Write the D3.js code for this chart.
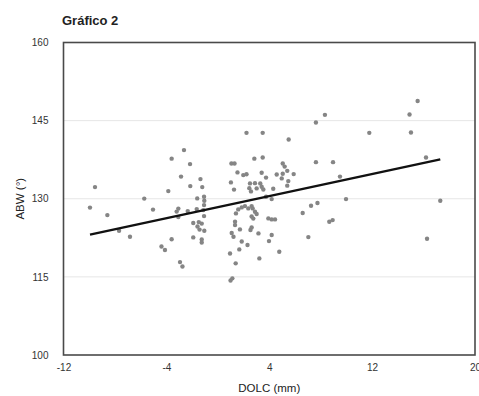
<!DOCTYPE html>
<html>
<head>
<meta charset="utf-8">
<script src="https://cdn.jsdelivr.net/npm/d3@7"></script>
<style>
  body { margin: 0; background: #fff; }
  svg { display: block; font-family: "Liberation Sans", Arial, Helvetica, sans-serif; }
</style>
</head>
<body>
<div id="chart"></div>
<script>
// DOLC (mm) values
const dolc = [
  -9.94, -9.55, -8.59, -7.68, -6.83, -5.72, -5.04, -4.38, -4.11, -3.85,
  -3.59, -3.59, -3.20, -3.07, -3.07, -2.94, -2.75, -2.86, -2.63, -2.34,
  -2.16, -2.14, -1.91, -1.91, -1.64, -1.58, -1.60, -1.48, -1.42, -1.35,
  -1.25, -1.25, -1.25, -1.21, -1.13, -1.07, -1.05, -1.07, -1.07, -1.05,
  0.95, 1.02, 1.06, 1.30, 1.08, 1.22, 1.13, 0.99, 1.26, 1.34,
  1.34, 1.39, 1.41, 1.53, 1.59, 1.67, 1.72, 1.86, 1.86, 1.98,
  2.11, 2.23, 2.23, 2.31, 2.37, 2.45, 2.58, 2.50, 2.54, 2.63,
  2.63, 2.63, 2.76, 2.71, 2.89, 2.84, 2.89, 3.02, 3.02, 3.16,
  3.23, 3.30, 3.41, 3.41, 3.49, 3.49, 3.54, 3.75, 3.75, 3.93,
  4.19, 4.45, 4.19, 4.19, 3.98, 4.31, 4.58, 4.78, 4.97, 5.05,
  5.20, 5.05, 5.40, 5.40, 5.48, 5.51, 5.90, 6.60, 7.04, 7.25,
  7.75, 7.63, 7.63, 8.33, 8.67, 8.93, 8.96, 9.50, 9.97, 11.78,
  14.91, 15.02, 15.54, 16.19, 16.27, 17.30
];
// ABW (°) values, same order
const abw = [
  128.30, 132.24, 126.86, 123.85, 122.70, 130.03, 127.92, 120.82, 120.15, 131.47,
  137.70, 122.22, 127.53, 128.11, 126.48, 117.84, 116.98, 134.25, 139.34, 127.63,
  136.65, 132.43, 125.33, 122.58, 128.01, 124.66, 130.07, 125.52, 124.08, 133.77,
  125.23, 122.20, 121.59, 132.24, 127.82, 130.37, 129.61, 128.78, 126.67, 123.85,
  119.48, 133.14, 136.78, 136.78, 123.41, 122.70, 114.72, 114.30, 131.76, 125.58,
  124.94, 117.60, 127.19, 135.06, 127.96, 120.28, 124.12, 128.34, 121.78, 134.54,
  128.59, 134.69, 142.65, 121.11, 128.15, 132.04, 131.41, 132.95, 123.99, 124.50,
  128.59, 126.58, 126.19, 128.15, 127.50, 137.70, 133.00, 131.99, 127.06, 123.35,
  118.55, 132.95, 134.98, 132.29, 137.93, 142.65, 131.79, 134.06, 130.37, 126.23,
  126.04, 126.04, 129.93, 123.03, 121.87, 131.91, 134.67, 119.82, 133.91, 136.78,
  136.17, 134.79, 135.36, 132.52, 133.39, 141.39, 134.73, 127.25, 122.64, 128.65,
  129.17, 144.65, 137.03, 146.11, 125.58, 125.90, 137.03, 134.25, 129.93, 142.65,
  146.19, 142.73, 148.78, 137.93, 122.32, 129.61
];
const xTicks = [-12, -4, 4, 12, 20];
const yTicks = [100, 115, 130, 145, 160];
// trend line end points
const trendX = [-9.94, 17.3];
const trendY = [123.1, 137.55];

const width = 479, height = 396;
const margin = { top: 42.5, right: 4, bottom: 41, left: 63.5 };

const svg = d3.select("#chart").append("svg")
  .attr("width", width)
  .attr("height", height);

const x = d3.scaleLinear().domain([-12, 20]).range([margin.left, width - margin.right]);
const y = d3.scaleLinear().domain([100, 160]).range([height - margin.bottom, margin.top]);

// title
svg.append("text")
  .attr("x", 62).attr("y", 25)
  .attr("font-size", 13).attr("font-weight", "bold").attr("fill", "#222")
  .text("Gráfico 2");

// grid lines
svg.append("g")
  .selectAll("line")
  .data(yTicks.slice(1, -1))
  .join("line")
  .attr("x1", x(-12)).attr("x2", x(20))
  .attr("y1", d => y(d)).attr("y2", d => y(d))
  .attr("stroke", "#e6e6e6").attr("stroke-width", 1);

// axes (labels only, no tick marks), plain hyphen for negatives
const yAxis = svg.append("g")
  .attr("transform", "translate(" + (margin.left - 12) + ",0)")
  .call(d3.axisLeft(y).tickValues(yTicks).tickSize(0).tickFormat(d => String(d)));
yAxis.select(".domain").remove();
yAxis.selectAll("text").attr("font-size", 10).attr("fill", "#333")
  .attr("font-family", "Liberation Sans, Arial, sans-serif");

const xAxis = svg.append("g")
  .attr("transform", "translate(0," + (height - margin.bottom + 6) + ")")
  .call(d3.axisBottom(x).tickValues(xTicks).tickSize(0).tickFormat(d => String(d)));
xAxis.select(".domain").remove();
xAxis.selectAll("text").attr("font-size", 10).attr("fill", "#333")
  .attr("font-family", "Liberation Sans, Arial, sans-serif");

// plot frame
svg.append("rect")
  .attr("x", x(-12)).attr("y", y(160))
  .attr("width", x(20) - x(-12)).attr("height", y(100) - y(160))
  .attr("fill", "none").attr("stroke", "#4a4a4a").attr("stroke-width", 1.6);

// axis titles
svg.append("text")
  .attr("x", (x(-12) + x(20)) / 2).attr("y", 392)
  .attr("text-anchor", "middle").attr("font-size", 11.5).attr("fill", "#222")
  .text("DOLC (mm)");

svg.append("text")
  .attr("transform", "translate(24," + ((y(100) + y(160)) / 2) + ") rotate(-90)")
  .attr("text-anchor", "middle").attr("font-size", 11.5).attr("fill", "#222")
  .text("ABW (°)");

// points
svg.append("g")
  .selectAll("circle")
  .data(dolc.map((d, i) => [d, abw[i]]))
  .join("circle")
  .attr("cx", d => x(d[0]))
  .attr("cy", d => y(d[1]))
  .attr("r", 2.2)
  .attr("fill", "#858585");

// trend line
const line = d3.line().x(d => x(d[0])).y(d => y(d[1]));
svg.append("path")
  .datum(trendX.map((d, i) => [d, trendY[i]]))
  .attr("d", line)
  .attr("fill", "none")
  .attr("stroke", "#111")
  .attr("stroke-width", 2.4);
</script>
</body>
</html>
